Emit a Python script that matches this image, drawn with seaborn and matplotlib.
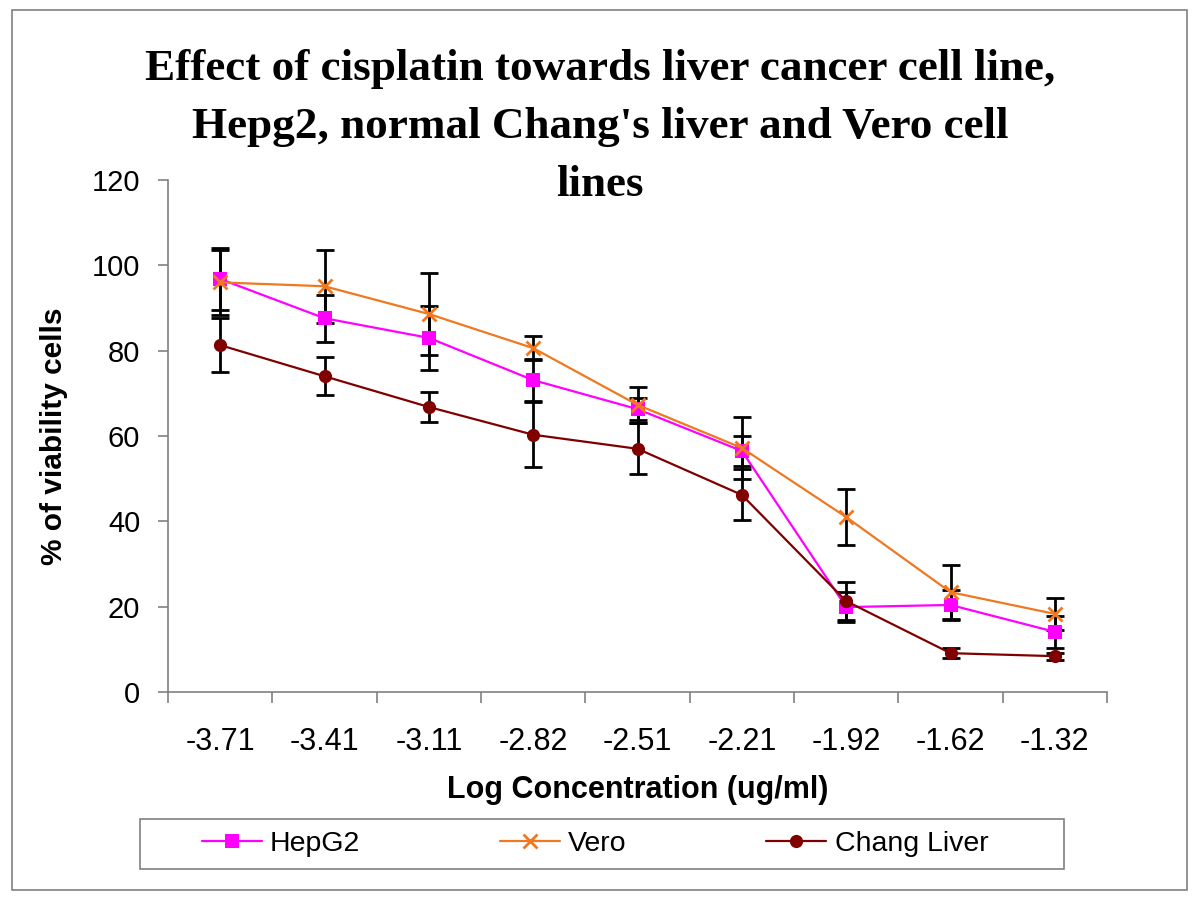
import numpy as np
import pandas as pd
import matplotlib
matplotlib.use("Agg")
import matplotlib.pyplot as plt
import seaborn as sns
from matplotlib.patches import Rectangle

# ---- data ----
log_conc = ["-3.71", "-3.41", "-3.11", "-2.82", "-2.51", "-2.21", "-1.92", "-1.62", "-1.32"]
hepg2 = [96.8, 87.6, 83.0, 73.1, 66.3, 56.5, 19.9, 20.4, 14.1]
hepg2_err = [7.2, 5.5, 7.5, 5.0, 2.5, 3.5, 3.5, 3.5, 3.8]
vero = [96.0, 95.1, 88.6, 80.6, 67.3, 57.2, 41.0, 23.4, 18.3]
vero_err = [7.6, 8.5, 9.6, 2.8, 4.2, 7.3, 6.6, 6.4, 3.8]
chang = [81.3, 74.0, 66.8, 60.3, 57.0, 46.2, 21.3, 9.1, 8.4]
chang_err = [6.3, 4.4, 3.6, 7.6, 6.0, 6.0, 4.5, 1.2, 0.8]
series_names = ["HepG2", "Vero", "Chang Liver"]
y_ticks = [0, 20, 40, 60, 80, 100, 120]
title_lines = ["Effect of cisplatin towards liver cancer cell line,",
               "Hepg2, normal Chang's liver and Vero cell",
               "lines"]
x_label = "Log Concentration (ug/ml)"
y_label = "% of viability cells"

sns.set_style("white")
plt.rcParams["font.family"] = ["Liberation Sans", "DejaVu Sans"]
plt.rcParams["text.color"] = "black"
plt.rcParams["axes.labelcolor"] = "black"
plt.rcParams["xtick.color"] = "black"
plt.rcParams["ytick.color"] = "black"

W, H = 1200, 900
fig = plt.figure(figsize=(12, 9), dpi=100)
ax = fig.add_axes([168 / W, 1 - 692 / H, (1107 - 168) / W, 512 / H])

pos = np.arange(len(log_conc))
df = pd.DataFrame({
    "pos": np.tile(pos, 3),
    "value": hepg2 + vero + chang,
    "err": hepg2_err + vero_err + chang_err,
    "series": np.repeat(series_names, len(log_conc)),
})

styles = {
    "HepG2": dict(color="#FF00FF", marker="s", markersize=9.5, markeredgecolor="#FF00FF", markeredgewidth=0),
    "Vero": dict(color="#F07820", marker="x", markersize=10, markeredgecolor="#F07820", markeredgewidth=2),
    "Chang Liver": dict(color="#800000", marker="o", markersize=9.5, markeredgecolor="#800000", markeredgewidth=0),
}

for name in series_names:
    sub = df[df.series == name]
    ax.errorbar(sub.pos, sub.value, yerr=sub.err, fmt="none", ecolor="black",
                elinewidth=2, capsize=6.3, capthick=2, zorder=2, label="_nolegend_")

for name in series_names:
    sub = df[df.series == name]
    st = styles[name]
    sns.lineplot(data=sub, x="pos", y="value", ax=ax, label=name, linewidth=1.6,
                 zorder=3, **st)

handles, labels = ax.get_legend_handles_labels()
if ax.get_legend() is not None:
    ax.get_legend().remove()

ax.set_xlim(-0.5, len(log_conc) - 0.5)
ax.set_ylim(0, 120)
ax.set_yticks(y_ticks)
ax.set_xticks(pos)
ax.set_xticklabels(log_conc)
ax.set_xticks(np.arange(-0.5, len(log_conc), 1.0), minor=True)

ax.tick_params(which="both", bottom=True, left=True)
ax.tick_params(axis="x", which="major", length=0, pad=25, labelsize=22, labelcolor="black")
ax.tick_params(axis="x", which="minor", length=8, width=1.2, color="#808080", direction="out")
ax.tick_params(axis="y", which="major", length=7, width=1.2, color="#808080", direction="out",
               pad=13, labelsize=21, labelcolor="black")

for s in ["top", "right"]:
    ax.spines[s].set_visible(False)
for s in ["left", "bottom"]:
    ax.spines[s].set_color("#808080")
    ax.spines[s].set_linewidth(1.2)

ax.set_xlabel(x_label, fontsize=22, fontweight="bold", color="black")
ax.xaxis.set_label_coords(0.5, (692 - 790) / 512)
ax.xaxis.label.set_va("center")
ax.set_ylabel(y_label, fontsize=21.5, fontweight="bold", color="black")
ax.yaxis.set_label_coords((54 - 168) / 939, 0.5)
ax.yaxis.label.set_va("center")

for line, base in zip(title_lines, [80, 138, 196]):
    fig.text(0.5, 1 - base / H, line, ha="center", va="baseline", fontsize=32.5,
             fontweight="bold", color="black", family=["Liberation Serif", "DejaVu Serif"])

fig.legend(handles, labels, loc="center", bbox_to_anchor=(595 / W, 1 - 844 / H), ncol=3,
           frameon=False, fontsize=20.5, handlelength=2.1, handletextpad=0.3, columnspacing=4.9)

fig.patches.append(Rectangle((140 / W, 1 - 869 / H), 924 / W, 50 / H, transform=fig.transFigure,
                             fill=False, edgecolor="#808080", linewidth=1.2))
fig.patches.append(Rectangle((12 / W, 1 - 890 / H), 1175 / W, 880 / H, transform=fig.transFigure,
                             fill=False, edgecolor="#808080", linewidth=1.2))

fig.savefig("out.png", dpi=100)
